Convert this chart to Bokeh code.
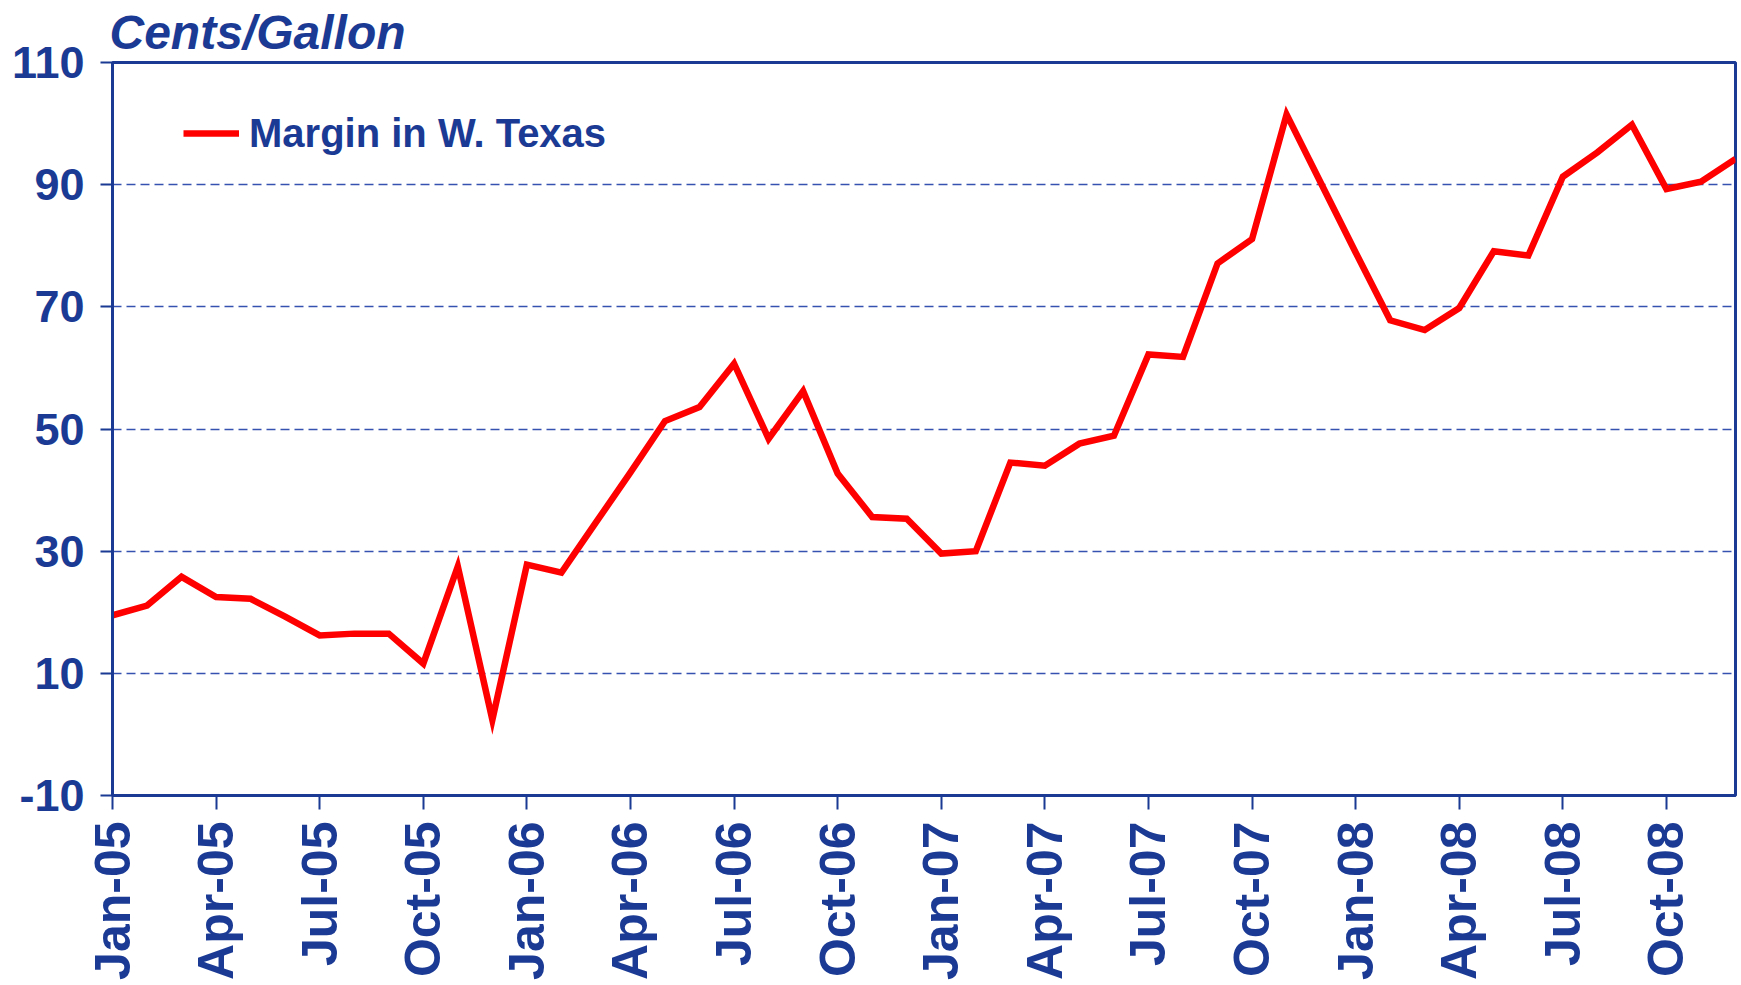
import math
from bokeh.plotting import figure
from bokeh.models import ColumnDataSource, FixedTicker, Legend, LegendItem, Range1d
from bokeh.embed import file_html
from bokeh.resources import INLINE

# ---- data ----
months = [
    "Jan-05", "Feb-05", "Mar-05", "Apr-05", "May-05", "Jun-05",
    "Jul-05", "Aug-05", "Sep-05", "Oct-05", "Nov-05", "Dec-05",
    "Jan-06", "Feb-06", "Mar-06", "Apr-06", "May-06", "Jun-06",
    "Jul-06", "Aug-06", "Sep-06", "Oct-06", "Nov-06", "Dec-06",
    "Jan-07", "Feb-07", "Mar-07", "Apr-07", "May-07", "Jun-07",
    "Jul-07", "Aug-07", "Sep-07", "Oct-07", "Nov-07", "Dec-07",
    "Jan-08", "Feb-08", "Mar-08", "Apr-08", "May-08", "Jun-08",
    "Jul-08", "Aug-08", "Sep-08", "Oct-08", "Nov-08", "Dec-08",
]
margin_w_texas = [
    19.5, 21.1, 25.8, 22.5, 22.2, 19.3,
    16.2, 16.5, 16.5, 11.6, 27.5, 2.4,
    27.8, 26.5, 34.7, 42.9, 51.3, 53.6,
    60.7, 48.4, 56.2, 42.7, 35.6, 35.3,
    29.6, 30.0, 44.5, 44.0, 47.6, 48.9,
    62.2, 61.8, 77.1, 81.1, 101.5, 90.2,
    78.9, 67.8, 66.2, 69.8, 79.1, 78.4,
    91.3, 95.3, 99.8, 89.3, 90.5, 94.2,
]
x_tick_labels = ["Jan-05", "Apr-05", "Jul-05", "Oct-05",
                 "Jan-06", "Apr-06", "Jul-06", "Oct-06",
                 "Jan-07", "Apr-07", "Jul-07", "Oct-07",
                 "Jan-08", "Apr-08", "Jul-08", "Oct-08"]
y_ticks = [-10, 10, 30, 50, 70, 90, 110]
y_tick_labels = ["-10", "10", "30", "50", "70", "90", "110"]
series_name = "Margin in W. Texas"
y_title = "Cents/Gallon"

BLUE = "#1a3a94"
GRID = "#3552b0"
RED = "#ff0000"
FONT = "Liberation Sans"

x_idx = list(range(len(months)))
src = ColumnDataSource(dict(x=x_idx, y=margin_w_texas, month=months))

p = figure(width=1741, height=985, output_backend="svg", toolbar_location=None,
           x_range=Range1d(0, len(months) - 1), y_range=Range1d(-10, 110),
           min_border_left=112, min_border_right=6, min_border_top=62,
           min_border_bottom=190, title=y_title)
p.background_fill_color = "white"
p.border_fill_color = "white"
p.outline_line_color = BLUE
p.outline_line_width = 3

p.title.text_font = FONT
p.title.text_font_style = "bold italic"
p.title.text_font_size = "48px"
p.title.text_color = BLUE
p.title.align = "left"
p.title.vertical_align = "top"
p.title.offset = -3
p.title.standoff = 4

r = p.line("x", "y", source=src, line_color=RED, line_width=6.5, line_join="miter")

# x axis
xa = p.xaxis[0]
tick_pos = [months.index(t) for t in x_tick_labels]
xa.ticker = FixedTicker(ticks=tick_pos)
xa.major_label_overrides = {i: t for i, t in zip(tick_pos, x_tick_labels)}
xa.major_label_orientation = math.pi / 2
xa.major_label_text_font = FONT
xa.major_label_text_font_style = "bold"
xa.major_label_text_font_size = "50px"
xa.major_label_text_color = BLUE
xa.major_label_standoff = 12
xa.axis_line_color = BLUE
xa.axis_line_width = 3
xa.major_tick_line_color = BLUE
xa.major_tick_line_width = 2
xa.major_tick_out = 14
xa.major_tick_in = 0
xa.minor_tick_line_color = None

# y axis
ya = p.yaxis[0]
ya.ticker = FixedTicker(ticks=y_ticks)
ya.major_label_overrides = {v: t for v, t in zip(y_ticks, y_tick_labels)}
ya.major_label_text_font = FONT
ya.major_label_text_font_style = "bold"
ya.major_label_text_font_size = "45px"
ya.major_label_text_color = BLUE
ya.major_label_standoff = 16
ya.axis_line_color = BLUE
ya.axis_line_width = 3
ya.major_tick_line_color = BLUE
ya.major_tick_line_width = 2
ya.major_tick_out = 12
ya.major_tick_in = 0
ya.minor_tick_line_color = None

p.xgrid.grid_line_color = None
p.ygrid.grid_line_color = GRID
p.ygrid.grid_line_width = 1.3
p.ygrid.grid_line_dash = "9 5"

legend = Legend(items=[LegendItem(label=series_name, renderers=[r])],
                location=(71, 637), padding=0, margin=0, spacing=0,
                border_line_alpha=0, background_fill_alpha=0,
                glyph_width=56, glyph_height=50, label_height=50,
                label_standoff=10,
                label_text_font=FONT,
                label_text_font_style="bold",
                label_text_font_size="40px",
                label_text_color=BLUE)
p.add_layout(legend)

open("out.html", "w").write(file_html(p, INLINE))
